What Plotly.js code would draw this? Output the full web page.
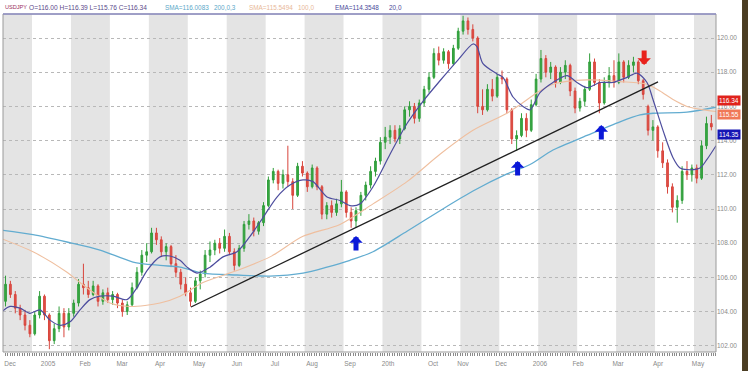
<!DOCTYPE html>
<html>
<head>
<meta charset="utf-8">
<script src="https://cdn.plot.ly/plotly-3.0.1.min.js"></script>
<style>html,body{margin:0;padding:0;background:#fff;}#chart{width:748px;height:371px;}</style>
</head>
<body>
<div id="chart"></div>
<script>
// ---- month bands / tick labels ----
const monthLabels = ['Dec','2005','Feb','Mar','Apr','May','Jun','Jul','Aug','Sep','20th','Oct','Nov','Dec','2006','Feb','Mar','Apr','May'];
const monthTickPos = [0.435,1.411,2.361,3.311,4.287,5.289,6.264,7.240,8.190,9.166,10.142,11.298,12.068,13.044,14.045,15.021,16.048,17.076,18.103];
const priceTicks = [102,104,106,108,110,112,114,116,118,120];

// ---- candles (USDJPY) ----
const candleStart = 0.32, candleStep = 0.125;
const opens = [
104.6,105.6,105.0,104.2,103.8,103.2,102.7,103.8,104.9,103.8,
102.3,103.0,103.9,103.1,103.9,104.5,105.6,105.4,105.0,105.5,
104.6,105.1,104.7,105.0,104.5,104.0,104.4,105.4,106.3,107.3,
107.5,108.6,108.2,107.5,107.8,106.8,106.3,105.6,105.1,104.6,
105.8,106.2,107.3,107.6,108.0,107.7,108.4,107.5,106.7,107.7,
109.1,109.3,108.7,109.2,110.2,111.7,112.2,111.5,112.0,111.6,
110.8,112.5,112.1,111.3,112.4,111.3,109.7,110.2,109.8,110.3,
111.0,109.8,109.3,109.9,110.8,111.4,112.2,112.8,113.9,114.2,
114.6,114.1,114.7,115.8,116.0,115.3,116.2,117.0,117.7,119.1,
118.7,119.2,118.5,119.4,120.4,121.0,120.5,120.0,116.0,115.8,
117.0,116.6,117.7,117.6,115.8,114.1,114.3,115.3,114.6,116.1,
117.6,118.8,118.0,118.3,117.4,118.0,118.4,116.9,115.9,116.3,
117.0,118.6,117.4,116.2,117.4,117.8,117.4,118.6,117.7,118.4,
118.6,117.5,116.0,114.6,114.8,113.4,112.7,111.3,110.1,110.5,
112.2,112.0,112.4,111.8,113.7,115.0];
const highs = [
106.1,105.8,105.2,104.4,104.1,103.5,104.0,105.2,105.0,103.9,
103.3,104.3,104.2,104.2,104.7,105.9,106.8,105.8,105.8,105.6,
105.3,105.4,105.2,105.1,104.7,104.6,105.7,106.6,107.6,108.0,
108.9,108.9,108.4,108.0,107.9,107.3,106.5,106.0,105.4,106.0,
106.4,107.6,108.1,108.2,108.3,108.8,108.6,107.7,107.9,109.3,
109.7,109.5,109.3,110.4,111.9,112.4,112.3,112.3,113.7,111.8,
112.7,112.8,112.2,112.6,112.5,111.4,110.4,110.5,110.6,111.7,
111.1,110.1,110.1,111.0,111.6,112.5,113.0,114.2,114.8,114.9,
114.9,114.9,116.0,116.3,116.2,116.4,117.2,118.0,119.4,119.5,
119.4,119.3,119.6,120.6,121.3,121.2,120.8,120.1,117.0,117.3,
117.6,117.9,118.1,117.7,115.9,114.6,115.6,115.6,116.4,117.9,
119.3,119.0,118.6,118.4,118.3,118.7,118.5,117.1,116.5,117.2,
119.1,118.8,117.6,117.7,118.3,118.7,119.1,118.7,118.7,118.9,
118.7,117.6,116.1,115.2,114.9,113.9,112.9,111.5,110.8,112.5,
112.8,112.6,112.6,114.0,115.4,115.5];
const lows = [
104.3,104.8,103.9,103.5,102.9,102.5,102.6,103.6,103.5,101.8,
102.1,102.8,102.5,102.9,103.7,104.3,105.0,104.8,104.9,104.3,
104.4,104.5,104.4,104.2,103.7,103.8,104.3,105.3,106.1,106.9,
107.4,107.9,107.2,107.0,106.6,106.0,105.3,104.9,104.3,104.5,
105.3,106.0,106.9,107.3,107.4,107.5,107.3,106.4,106.6,107.5,
108.8,108.4,108.5,109.0,110.1,111.5,111.1,111.2,111.3,110.0,
110.7,111.9,111.0,111.2,111.1,109.4,109.4,109.5,109.6,110.1,
109.5,108.9,108.9,109.6,110.5,111.2,111.9,112.6,113.5,113.8,
113.9,113.8,114.6,115.4,115.0,115.1,116.0,116.8,117.6,118.4,
118.5,118.2,118.4,119.3,120.2,120.2,119.8,115.6,115.5,115.7,
116.3,116.5,117.3,115.6,113.8,113.4,114.2,114.2,114.5,116.0,
117.4,117.7,117.6,117.1,117.3,117.6,116.6,115.6,115.7,116.0,
116.9,117.2,115.6,116.1,117.1,117.1,117.3,117.4,117.6,118.0,
117.3,116.4,114.3,114.0,113.0,112.4,110.9,109.8,109.2,110.3,
111.7,111.6,111.5,111.7,113.5,114.6];
const closes = [
105.6,105.0,104.2,103.8,103.2,102.7,103.8,104.9,103.8,102.3,
103.0,103.9,103.1,103.9,104.5,105.6,105.4,105.0,105.5,104.6,
105.1,104.7,105.0,104.5,104.0,104.4,105.4,106.3,107.3,107.5,
108.6,108.2,107.5,107.8,106.8,106.3,105.6,105.1,104.6,105.8,
106.2,107.3,107.6,108.0,107.7,108.4,107.5,106.7,107.7,109.1,
109.3,108.7,109.2,110.2,111.7,112.2,111.5,112.0,111.6,110.8,
112.5,112.1,111.3,112.4,111.3,109.7,110.2,109.8,110.3,111.0,
109.8,109.3,109.9,110.8,111.4,112.2,112.8,113.9,114.2,114.6,
114.1,114.7,115.8,116.0,115.3,116.2,117.0,117.7,119.1,118.7,
119.2,118.5,119.4,120.4,121.0,120.5,120.0,116.0,115.8,117.0,
116.6,117.7,117.6,115.8,114.1,114.3,115.3,114.6,116.1,117.6,
118.8,118.0,118.3,117.4,118.0,118.4,116.9,115.9,116.3,117.0,
118.6,117.4,116.2,117.4,117.8,117.4,118.6,117.7,118.4,118.6,
117.5,116.7,114.6,114.8,113.4,112.7,111.3,110.1,110.5,112.2,
112.0,112.4,111.8,113.7,115.0,114.8];

// ---- indicators ----
const sma200X = [0.178,1.025,1.899,2.746,3.594,4.287,4.800,5.391,6.264,7.112,7.959,8.576,9.166,9.757,10.630,11.477,12.325,13.198,13.789,14.379,15.252,16.100,16.614,16.947,17.820,18.565];
const sma200Y = [108.77,108.5,108.07,107.6,106.9,106.7,106.6,106.25,106.14,106.08,106.25,106.6,107.0,107.5,108.7,109.9,111.05,112.05,112.6,113.45,114.3,115.1,115.5,115.6,115.67,115.95];
const sma100X = [0.178,1.025,1.899,2.232,3.003,3.516,4.287,4.800,5.391,6.264,7.112,7.959,8.909,9.757,10.630,11.477,12.325,13.198,13.532,13.968,14.379,15.252,16.100,16.793,17.127,17.461,17.820,18.565];
const sma100Y = [108.3,107.5,106.3,105.7,104.5,104.3,104.5,104.9,105.7,106.4,107.2,108.4,109.1,110.3,111.6,113.2,114.6,115.6,116.1,116.8,117.3,117.55,117.45,117.3,116.9,116.4,116.0,115.7];
const emaX = [0.178,0.435,0.692,0.948,1.205,1.462,1.719,1.976,2.232,2.489,2.746,3.080,3.439,3.696,3.953,4.287,4.544,4.800,4.980,5.237,5.571,5.905,6.264,6.598,6.932,7.291,7.625,7.959,8.216,8.576,8.909,9.166,9.423,9.757,10.194,10.630,11.041,11.477,11.914,12.325,12.427,12.581,12.941,13.095,13.352,13.609,13.789,14.045,14.379,14.739,14.995,15.252,15.586,15.920,16.280,16.536,16.793,16.947,17.204,17.461,17.641,17.820,18.154,18.334,18.565];
const emaY = [103.9,104.3,104.2,103.9,104.1,103.5,103.2,103.4,104.1,104.7,104.9,104.9,104.7,105.4,106.4,107.2,107.25,107.0,106.6,106.25,106.6,107.2,107.5,108.4,109.5,110.7,111.4,111.7,111.6,110.7,110.5,110.2,110.3,111.3,113.2,115.0,116.3,117.5,118.65,119.65,119.5,118.5,117.9,117.7,116.55,116.0,115.8,116.8,117.4,117.8,117.4,117.1,117.4,117.4,117.7,117.95,117.4,116.4,114.6,113.0,112.4,112.3,112.4,112.9,113.7];
const trendX = [5.083, 17.076];
const trendY = [104.27, 117.43];

// signal arrows (tip positions)
const upArrowX = [9.32, 13.47, 15.62];
const upArrowY = [108.42, 112.81, 114.91];
const downArrowX = [16.72];
const downArrowY = [118.42];

// last-value tags on the price axis
const tagValues = [116.34, 115.55, 114.35];
const tagColors = ['#e0221c', '#f07858', '#1616b4'];

// header
const headerParts = [
  {text:'USDJPY', color:'#9b2d5a', px:3, size:5.6},
  {text:'O=116.00 H=116.39 L=115.76 C=116.34', color:'#5a4a8a', px:27, size:6.6},
  {text:'SMA=116.0083', color:'#5aa8c8', px:163, size:6.4},
  {text:'200,0,3', color:'#5aa8c8', px:212, size:6.4},
  {text:'SMA=115.5494', color:'#e8b898', px:247, size:6.4},
  {text:'100,0', color:'#e8b898', px:296, size:6.4},
  {text:'EMA=114.3548', color:'#4a4a9a', px:333, size:6.4},
  {text:'20,0', color:'#4a4a9a', px:387, size:6.4}
];

const xs = opens.map((_, k) => candleStart + k * candleStep);
const FONT = 'Liberation Sans, Arial, sans-serif';

const traces = [
  {type:'scatter', mode:'lines', x:sma200X, y:sma200Y, line:{color:'#62acd0', width:1.3, shape:'spline', smoothing:0.8}, hoverinfo:'skip'},
  {type:'scatter', mode:'lines', x:sma100X, y:sma100Y, line:{color:'#efbf9f', width:1.1, shape:'spline', smoothing:0.8}, hoverinfo:'skip'},
  {type:'candlestick', x:xs, open:opens, high:highs, low:lows, close:closes,
    increasing:{line:{color:'#2f9e3a', width:1}, fillcolor:'#3aa845'},
    decreasing:{line:{color:'#d8453c', width:1}, fillcolor:'#e05048'},
    whiskerwidth:0},
  {type:'scatter', mode:'lines', x:emaX, y:emaY, line:{color:'#4d4d9e', width:1.2, shape:'spline', smoothing:0.8}, hoverinfo:'skip'},
  {type:'scatter', mode:'lines', x:trendX, y:trendY, line:{color:'#202020', width:1.3}, hoverinfo:'skip'}
];

const shapes = [];
for (let i = 0; i < monthLabels.length; i++) {
  if (i % 2 === 0) {
    shapes.push({type:'rect', xref:'x', yref:'paper', x0:i, x1:i+1, y0:0, y1:1, fillcolor:'#e4e4e4', line:{width:0}, layer:'below'});
  }
}
// frame
shapes.push({type:'rect', xref:'paper', yref:'paper', x0:0, x1:1, y0:0, y1:1, line:{color:'#9a9a9a', width:1}, fillcolor:'rgba(0,0,0,0)'});
shapes.push({type:'line', xref:'paper', yref:'paper', x0:0, x1:1, y0:1, y1:1, line:{color:'#8f8fc4', width:1.6}});
// right screenshot edge
shapes.push({type:'rect', xref:'paper', yref:'paper', x0:1.0365, x1:1.05, y0:-0.07, y1:1.05, fillcolor:'#4a3d22', line:{width:0}});

const annotations = [];
upArrowX.forEach((x, i) => annotations.push({x:x, y:upArrowY[i], xref:'x', yref:'y', text:'', showarrow:true,
  arrowhead:1, arrowsize:0.45, arrowwidth:5, arrowcolor:'#0a18d8', ax:0, ay:16}));
downArrowX.forEach((x, i) => annotations.push({x:x, y:downArrowY[i], xref:'x', yref:'y', text:'', showarrow:true,
  arrowhead:1, arrowsize:0.45, arrowwidth:5, arrowcolor:'#e8221c', ax:0, ay:-16}));
tagValues.forEach((v, i) => annotations.push({x:1.0015, y:v, xref:'paper', yref:'y', xanchor:'left', yanchor:'middle',
  text:v.toFixed(2), showarrow:false, bgcolor:tagColors[i], borderpad:1, font:{family:FONT, size:6.5, color:'#ffffff'}}));
headerParts.forEach(p => annotations.push({x:(p.px - 3) / 713, y:1 + 7 / 338, xref:'paper', yref:'paper',
  xanchor:'left', yanchor:'middle', text:p.text, showarrow:false, font:{family:FONT, size:p.size, color:p.color}}));

const layout = {
  width:748, height:371,
  margin:{l:3, r:32, t:14, b:19, pad:0},
  paper_bgcolor:'#ffffff', plot_bgcolor:'#ffffff',
  showlegend:false, hovermode:false,
  boxgap:0.5,
  xaxis:{range:[0.255, 18.565], tickmode:'array', tickvals:monthTickPos, ticktext:monthLabels,
    ticks:'outside', ticklen:5, tickcolor:'rgba(0,0,0,0)', showgrid:false, zeroline:false,
    tickfont:{family:FONT, size:6.5, color:'#8a8a8a'},
    rangeslider:{visible:false},
    minor:{ticks:'outside', ticklen:3, tickwidth:1, tickcolor:'#8a8a8a', tickmode:'linear', tick0:0, dtick:0.0625, showgrid:false}},
  yaxis:{side:'right', range:[101.637, 121.404], tickmode:'array', tickvals:priceTicks,
    ticktext:priceTicks.map(v => v.toFixed(2)), ticks:'', showgrid:true, gridcolor:'#b8b8b8', griddash:'dot', gridwidth:1,
    zeroline:false, tickfont:{family:FONT, size:6.5, color:'#8a8a8a'}},
  shapes:shapes,
  annotations:annotations
};

Plotly.newPlot('chart', traces, layout, {staticPlot:true, displayModeBar:false});
</script>
</body>
</html>
